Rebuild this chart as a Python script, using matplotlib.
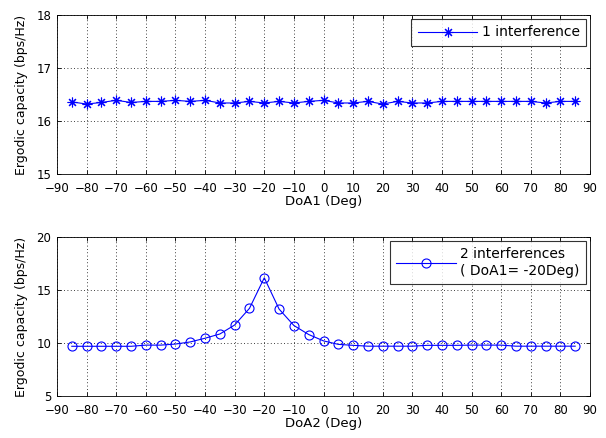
import matplotlib
matplotlib.use("Agg")
import matplotlib.pyplot as plt

plt.rcParams["font.family"] = ["DejaVu Sans"]
plt.rcParams["font.size"] = 8.5

doa = list(range(-85, 90, 5))

cap_one = [16.36, 16.32, 16.35, 16.39, 16.35, 16.37, 16.37, 16.39, 16.37, 16.39,
           16.34, 16.34, 16.37, 16.34, 16.37, 16.34, 16.37, 16.39, 16.34, 16.34,
           16.37, 16.32, 16.37, 16.34, 16.34, 16.37, 16.37, 16.37, 16.37, 16.37,
           16.37, 16.37, 16.34, 16.37, 16.37]

cap_two = [9.69, 9.69, 9.69, 9.69, 9.69, 9.8, 9.8, 9.9, 10.1, 10.45,
           10.85, 11.7, 13.27, 16.15, 13.2, 11.65, 10.8, 10.2, 9.87, 9.78,
           9.7, 9.7, 9.7, 9.7, 9.78, 9.78, 9.78, 9.8, 9.8, 9.8,
           9.7, 9.7, 9.7, 9.7, 9.7]

xticks = list(range(-90, 91, 10))

fig = plt.figure(figsize=(6.06, 4.38), dpi=100)
ax1 = fig.add_axes([57 / 606, 1 - 174 / 438, 533 / 606, 159 / 438])
ax2 = fig.add_axes([57 / 606, 1 - 396 / 438, 533 / 606, 159 / 438])


def style(ax, ylim, yticks, xlabel):
    ax.set_xlim(-90, 90)
    ax.set_ylim(*ylim)
    ax.set_xticks(xticks)
    ax.set_yticks(yticks)
    ax.tick_params(direction="in", length=3, width=0.6, top=True, right=True)
    ax.tick_params(axis="x", pad=5.5)
    ax.tick_params(axis="y", pad=4)
    ax.grid(True, color="black", linestyle=(0, (1, 3)), linewidth=0.6)
    for s in ax.spines.values():
        s.set_linewidth(0.6)
    ax.set_xlabel(xlabel, labelpad=0, fontsize=9.5)
    ax.set_ylabel("Ergodic capacity (bps/Hz)", labelpad=6, fontsize=9)


def frame(leg):
    leg.get_frame().set_edgecolor("black")
    leg.get_frame().set_linewidth(0.8)


ax1.plot(doa, cap_one, color="blue", linewidth=0.8, marker=(8, 2, 0), markersize=7,
         markeredgewidth=0.8, label="1 interference")
style(ax1, (15, 18), [15, 16, 17, 18], "DoA1 (Deg)")
leg1 = ax1.legend(loc="upper right", frameon=True, fancybox=False, borderaxespad=0.3,
                  handlelength=4.3, handletextpad=0.3, borderpad=0.45, fontsize=10)
frame(leg1)

ax2.plot(doa, cap_two, color="blue", linewidth=0.8, marker="o", markersize=6.5,
         markerfacecolor="none", markeredgewidth=0.8,
         label="2 interferences\n( DoA1= -20Deg)")
style(ax2, (5, 20), [5, 10, 15, 20], "DoA2 (Deg)")
leg2 = ax2.legend(loc="upper right", frameon=True, fancybox=False, borderaxespad=0.3,
                  handlelength=4.3, handletextpad=0.3, borderpad=0.45, fontsize=10)
frame(leg2)

fig.savefig("out.png", dpi=100)
